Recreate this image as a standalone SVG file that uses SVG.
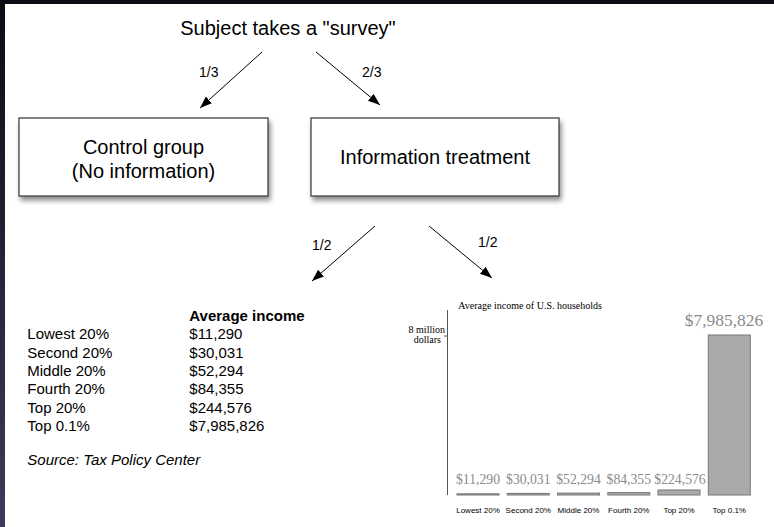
<svg xmlns="http://www.w3.org/2000/svg" width="774" height="527" viewBox="0 0 774 527">
<defs>
<style>
.sans{font-family:"Liberation Sans",Arial,sans-serif;fill:#000}
.serif{font-family:"Liberation Serif","Times New Roman",serif}
.big{font-size:20px}
.lbl{font-size:14px}
.tbl{font-size:15px}
.box{fill:#fff;stroke:#333;stroke-width:1.2}
.conn{stroke:#000;stroke-width:1;fill:none}
.bar{fill:#aaaaaa;stroke:#777;stroke-width:1}
.val{font-size:13.7px;fill:#8a8a8a}
.cat{font-size:8px}
</style>
<linearGradient id="side" x1="0" y1="0" x2="0" y2="1">
<stop offset="0" stop-color="#0b0b14"/>
<stop offset="1" stop-color="#3d3b5c"/>
</linearGradient>
<filter id="shadow" x="-10%" y="-10%" width="125%" height="140%">
<feDropShadow dx="2" dy="4" stdDeviation="2.5" flood-color="#000" flood-opacity="0.45"/>
</filter>
<marker id="ah" markerUnits="userSpaceOnUse" markerWidth="13" markerHeight="10" refX="12" refY="4.5" orient="auto">
<path d="M0,0 L12,4.5 L0,9 z" fill="#000"/>
</marker>
</defs>
<rect x="0" y="0" width="774" height="527" fill="#fff"/>
<rect x="0" y="0" width="774" height="4" fill="#0b0b14"/>
<rect x="0" y="0" width="5" height="527" fill="url(#side)"/>

<g id="title">
<text class="sans big" x="288" y="35" text-anchor="middle">Subject takes a "survey"</text>
</g>

<g id="connectors">
<line class="conn" x1="262" y1="52" x2="200" y2="108" marker-end="url(#ah)"/>
<line class="conn" x1="316" y1="52" x2="380" y2="105" marker-end="url(#ah)"/>
<line class="conn" x1="375" y1="226" x2="312" y2="281" marker-end="url(#ah)"/>
<line class="conn" x1="429" y1="226" x2="492" y2="278" marker-end="url(#ah)"/>
<text class="sans lbl" x="199" y="77">1/3</text>
<text class="sans lbl" x="362" y="77">2/3</text>
<text class="sans lbl" x="312" y="250">1/2</text>
<text class="sans lbl" x="478" y="247">1/2</text>
</g>

<g id="control">
<rect class="box" x="19" y="118" width="249" height="78" filter="url(#shadow)"/>
<text class="sans big" x="143.5" y="154" text-anchor="middle">Control group</text>
<text class="sans big" x="143.5" y="178" text-anchor="middle">(No information)</text>
</g>

<g id="treatment">
<rect class="box" x="311" y="118" width="248" height="78" filter="url(#shadow)"/>
<text class="sans big" x="435" y="164" text-anchor="middle">Information treatment</text>
</g>

<g id="table">
<text class="sans tbl" x="189.3" y="320.7" font-weight="bold">Average income</text>
<g class="sans tbl">
<text x="27.3" y="339.3">Lowest 20%</text>
<text x="27.3" y="357.6">Second 20%</text>
<text x="27.3" y="375.9">Middle 20%</text>
<text x="27.3" y="394.2">Fourth 20%</text>
<text x="27.3" y="412.5">Top 20%</text>
<text x="27.3" y="430.8">Top 0.1%</text>
<text x="189.3" y="339.3">$11,290</text>
<text x="189.3" y="357.6">$30,031</text>
<text x="189.3" y="375.9">$52,294</text>
<text x="189.3" y="394.2">$84,355</text>
<text x="189.3" y="412.5">$244,576</text>
<text x="189.3" y="430.8">$7,985,826</text>
</g>
<text class="sans tbl" x="27.3" y="465" font-style="italic">Source: Tax Policy Center</text>
</g>

<g id="chart">
<text class="serif" x="458.3" y="309.3" font-size="10" fill="#000">Average income of U.S. households</text>
<line x1="447.5" y1="310" x2="447.5" y2="495" stroke="#555" stroke-width="1"/>
<line x1="444" y1="336" x2="447.5" y2="336" stroke="#555" stroke-width="1"/>
<text class="serif" x="445" y="333" font-size="10" text-anchor="end" fill="#000">8 million</text>
<text class="serif" x="441" y="343" font-size="10" text-anchor="end" fill="#000">dollars</text>
<rect class="bar" x="457" y="493.8" width="42" height="1.2"/>
<rect class="bar" x="507.3" y="493.4" width="42" height="1.6"/>
<rect class="bar" x="557.5" y="493.1" width="42" height="1.9"/>
<rect class="bar" x="607.8" y="492.6" width="42" height="2.4"/>
<rect class="bar" x="658" y="490" width="42" height="5"/>
<rect class="bar" x="708.3" y="335" width="42" height="160"/>
<g class="serif val" text-anchor="middle">
<text x="478" y="484">$11,290</text>
<text x="528.3" y="484">$30,031</text>
<text x="578.5" y="484">$52,294</text>
<text x="628.8" y="484">$84,355</text>
<text x="680" y="484">$224,576</text>
</g>
<text class="serif" x="724" y="326" font-size="17.4" fill="#8a8a8a" text-anchor="middle">$7,985,826</text>
<g class="sans cat" text-anchor="middle">
<text x="478" y="513.3">Lowest 20%</text>
<text x="528.3" y="513.3">Second 20%</text>
<text x="578.5" y="513.3">Middle 20%</text>
<text x="628.8" y="513.3">Fourth 20%</text>
<text x="679" y="513.3">Top 20%</text>
<text x="729.3" y="513.3">Top 0.1%</text>
</g>
</g>
</svg>
